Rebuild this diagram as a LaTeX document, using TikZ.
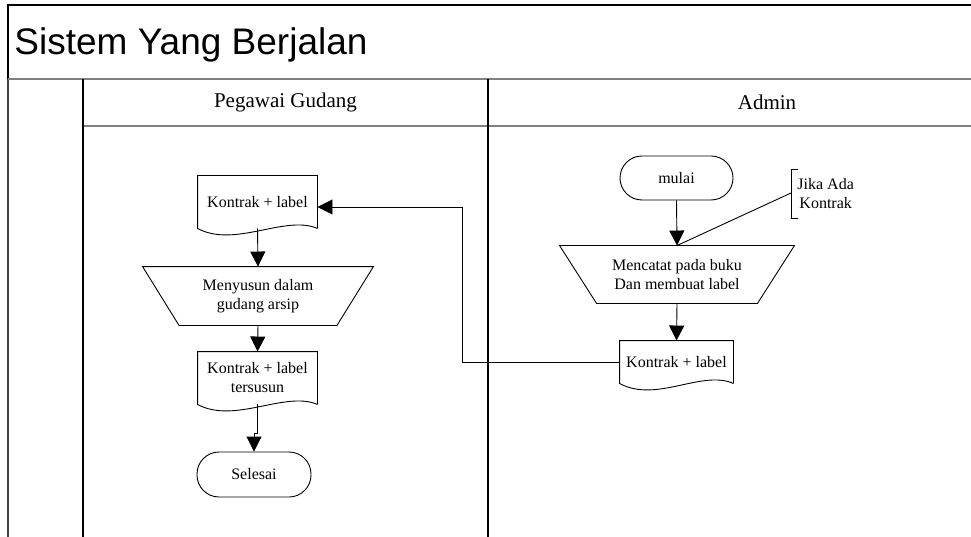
\documentclass[tikz,border=0pt]{standalone}
\usepackage{fontspec}
\setmainfont{Liberation Serif}
\newfontfamily\titlefont{Liberation Sans}
\usetikzlibrary{arrows.meta,calc}

% document symbol: box with a wavy lower edge
\newcommand\docpath[1]{%
  \draw (#1.south east) -- (#1.north east) -- (#1.north west) -- (#1.south west)
    .. controls +(37,20) and +(-32,-14) .. (#1.south east);}
% manual operation: trapezium, wide side on top
\newcommand\trappath[2]{%
  \draw (#1.north west) -- (#1.north east) -- ($(#1.south east)+(-#2,0)$)
    -- ($(#1.south west)+(#2,0)$) -- cycle;}

\begin{document}
\begin{tikzpicture}[x=1pt,y=-1pt,line width=0.9pt,
  box/.style={draw=none,inner sep=0pt,align=center,font=\fontsize{16}{19}\selectfont},
  term/.style={box,draw,rounded corners=22pt},
  arr/.style={-{Triangle[length=15pt,width=15pt]}},
  lane/.style={line width=1.3pt},
  rule/.style={draw=gray,line width=2.2pt},
  head/.style={font=\fontsize{21}{24}\selectfont}]
\useasboundingbox (0,0) rectangle (971,537);

% frame and swimlanes
\draw[line width=1.5pt] (8,79) -- (8,5) -- (971,5);
\draw[draw=black!75,line width=2pt] (8,79) -- (8,537);
\draw[rule] (8,79) -- (971,79);
\draw[rule] (83,126) -- (971,126);
\draw[lane] (83,79) -- (83,537);
\draw[lane] (488,79) -- (488,537);

\node[anchor=west,inner sep=0pt,font=\titlefont\fontsize{37}{40}\selectfont] (title) at (14,45) {Sistem Yang Berjalan};
\node[head] (h1) at (285.5,102) {Pegawai Gudang};
\node[head] (h2) at (767,102) {Admin};

% Pegawai Gudang
\node[box,minimum width=119pt,minimum height=52pt] (doc1) at (257.5,202) {Kontrak + label};
\docpath{doc1}
\node[box,minimum width=230pt,minimum height=58pt] (trap1) at (258,296) {Menyusun dalam\\gudang arsip};
\trappath{trap1}{36.5}
\node[box,minimum width=119pt,minimum height=52pt] (doc2) at (257.5,378) {Kontrak + label\\tersusun};
\docpath{doc2}
\node[term,minimum width=114pt,minimum height=45pt] (end) at (254,474.5) {Selesai};

% Admin
\node[term,minimum width=113pt,minimum height=44pt] (start) at (676.5,178) {mulai};
\node[box,minimum width=234pt,minimum height=57pt] (trap2) at (677,274.5) {Mencatat pada buku\\Dan membuat label};
\trappath{trap2}{37}
\node[box,minimum width=113pt,minimum height=42pt] (doc3) at (676.5,362) {Kontrak + label};
\docpath{doc3}

% annotation
\coordinate (note) at (791,193);
\draw (798,169) -- (791,169) -- (791,218) -- (798,218);
\node[box,anchor=west] (notetext) at (797,194) {Jika Ada\\Kontrak};
\draw (note) -- (trap2.north);

% flow
\draw[arr] (doc1.south) -- (trap1.north);
\draw[arr] (trap1.south) -- (doc2.north);
\draw[arr] (doc2.south) -- ++(0,29) -| (end.north);
\draw[arr] (start.south) -- (trap2.north);
\draw[arr] (trap2.south) -- (doc3.north);
\coordinate (bend) at (462,207);
\draw[arr] (doc3.west) -| (bend) -- (bend -| doc1.east);
\end{tikzpicture}
\end{document}
